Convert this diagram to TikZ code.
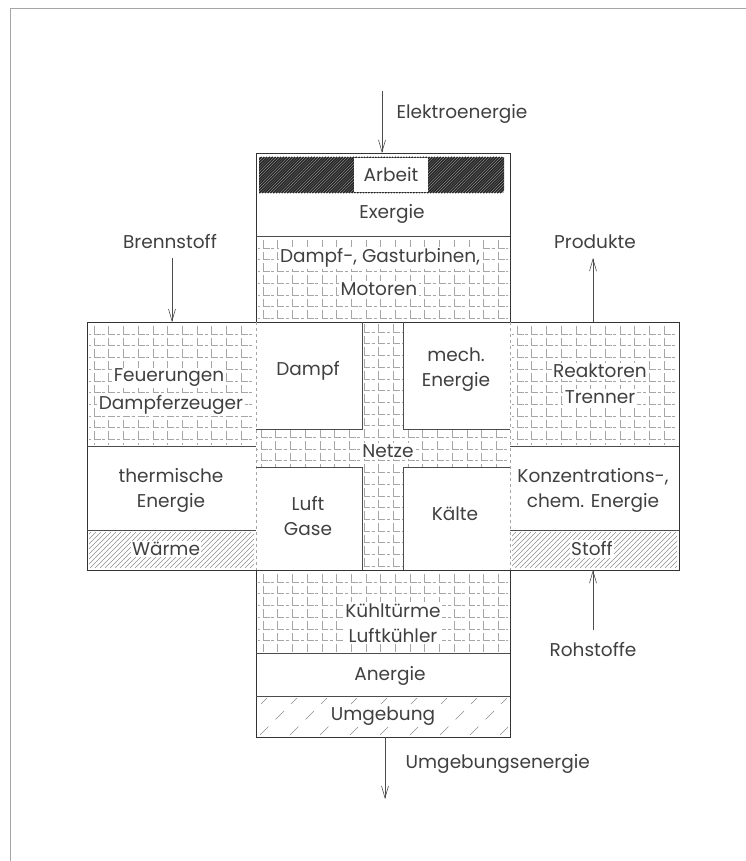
\documentclass[tikz,border=0pt]{standalone}
\usepackage{fontspec}
\setmainfont{Poppins}
\usetikzlibrary{arrows.meta,positioning}

% L-shaped brick pattern, clipped to a rectangle
\newcommand{\brickfill}[4]{%
  \begin{scope}
    \clip (#1,#2) rectangle (#3,#4);
    \foreach \i in {0,...,22}
      \foreach \j in {0,...,18}
        \draw[brick] ({#1+5+14.7*\j},{#2+2+11.7*\i}) |- ++(6.5,8) ++(-13,0) -- ++(3,0);
  \end{scope}}

\begin{document}
\begin{tikzpicture}[x=1pt, y=-1pt,
  lbl/.style={font=\fontsize{18.5}{25}\selectfont, text=black!75, inner sep=1.5pt},
  txt/.style={lbl, align=center},
  knock/.style={txt, fill=white},
  wall/.style={draw=black!80, line width=0.9pt},
  rule/.style={draw=black!70, line width=0.6pt},
  seam/.style={draw=black!35, dashed, line width=0.5pt},
  brick/.style={draw=black!35, line width=0.45pt},
  hatch/.style={draw=black!45, line width=0.5pt},
  arr/.style={draw=black!70, line width=0.6pt, -{Straight Barb[length=12pt,width=7pt]}},
]
\useasboundingbox (0,0) rectangle (746,861);
\draw[black!35, line width=0.6pt] (10,861) -- (10,8) -- (746,8);

% patterned areas
\brickfill{258}{238}{508}{320}
\brickfill{89}{324}{254}{444}
\brickfill{512}{324}{677}{444}
\brickfill{258}{572}{508}{651}
\begin{scope}
  \clip (362,322) rectangle (403,570) (256,429) rectangle (510,467);
  \foreach \i in {0,...,22}
    \foreach \j in {0,...,18}
      \draw[brick] ({261+14.7*\j},{324+11.7*\i}) |- ++(6.5,8) ++(-13,0) -- ++(3,0);
\end{scope}

% Arbeit band
\begin{scope}
  \clip (259,157) rectangle (504,193);
  \fill[black!25] (259,157) rectangle (504,193);
  \foreach \k in {0,...,100}
    \draw[black!85, line width=1.5pt] ({220+2.8*\k},193) -- ++(36,-36);
\end{scope}
% Waerme and Stoff bands
\begin{scope}
  \clip (89,532) rectangle (254,568) (512,532) rectangle (677,568);
  \foreach \k in {0,...,130}
    \draw[hatch] ({50+5*\k},568) -- ++(36,-36);
\end{scope}
% Umgebung band
\begin{scope}
  \clip (258,698) rectangle (508,735);
  \foreach \k in {0,...,9}
    \draw[hatch, dash pattern=on 12pt off 10pt] ({230+30*\k},735) -- ++(37,-37);
\end{scope}

% outline and partitions
\draw[wall] (256,153) -| (510,322) -| (679,570) -| (510,737) -| (256,570) -| (87,322) -| cycle;
\draw[wall] (256,322) -- (510,322) (256,570) -- (510,570);
\draw[rule] (256,236) -- (510,236) (256,653) -- (510,653) (256,696) -- (510,696);
\draw[rule] (87,446) -- (256,446) (87,530) -- (256,530);
\draw[rule] (510,446) -- (679,446) (510,530) -- (679,530);
\draw[seam] (256,322) -- (256,570) (510,322) -- (510,570);
\draw[rule] (362,322) -- (362,429) -- (256,429)
            (403,322) -- (403,429) -- (510,429)
            (256,467) -- (362,467) -- (362,570)
            (510,467) -- (403,467) -- (403,570);

% texts in the cross
\node[knock, minimum width=74pt, minimum height=33pt] (arbeit) at (391,175) {Arbeit};
\node[txt] (exergie) at (392,214) {Exergie};
\node[knock] (turbinen) at (380,258) {Dampf-, Gasturbinen,};
\node[knock] (motoren) at (379,289) {Motoren};
\node[knock] (feuerungen) at (169,378) {Feuerungen};
\node[knock] (dampferzeuger) at (171,405) {Dampferzeuger};
\node[txt] (dampf) at (308,371) {Dampf};
\node[txt] (mech) at (456,370) {mech.\\Energie};
\node[knock] (reaktoren) at (600,371) {Reaktoren};
\node[knock] (trenner) at (600,397) {Trenner};
\node[knock] (netze) at (388,451) {Netze};
\node[txt] (thermisch) at (171,490) {thermische\\Energie};
\node[txt] (luft) at (308,516) {Luft\\Gase};
\node[txt] (kaelte) at (455,514) {Kälte};
\node[txt] (konzentration) at (593,490) {Konzentrations-,\\chem. Energie};
\node[knock] (waerme) at (166,549) {Wärme};
\node[knock] (stoff) at (592,549) {Stoff};
\node[knock] (kuehlung) at (393,623) {Kühltürme\\Luftkühler};
\node[txt] (anergie) at (390,676) {Anergie};
\node[knock] (umgebung) at (383,716) {Umgebung};

% flows in and out
\node[lbl, anchor=west] (elektro) at (395,114) {Elektroenergie};
\node[lbl] (brennstoff) at (170,242) {Brennstoff};
\node[lbl] (produkte) at (595,242) {Produkte};
\node[lbl] (rohstoffe) at (593,650) {Rohstoffe};
\node[lbl, anchor=west] (umgebungsenergie) at (404,764) {Umgebungsenergie};

\coordinate (elektro-in) at (382,91);
\coordinate (arbeit-top) at (382,153);
\coordinate (brennstoff-in) at (172,258);
\coordinate (feuerung-top) at (172,322);
\coordinate (reaktor-top) at (593,322);
\coordinate (produkte-out) at (593,258);
\coordinate (rohstoffe-in) at (593,630);
\coordinate (stoff-bottom) at (593,570);
\coordinate (umgebung-bottom) at (385,737);
\coordinate (umgebung-out) at (385,799);

\draw[arr] (elektro-in) -- (arbeit-top);
\draw[arr] (brennstoff-in) -- (feuerung-top);
\draw[arr] (reaktor-top) -- (produkte-out);
\draw[arr] (rohstoffe-in) -- (stoff-bottom);
\draw[arr] (umgebung-bottom) -- (umgebung-out);
\end{tikzpicture}
\end{document}
